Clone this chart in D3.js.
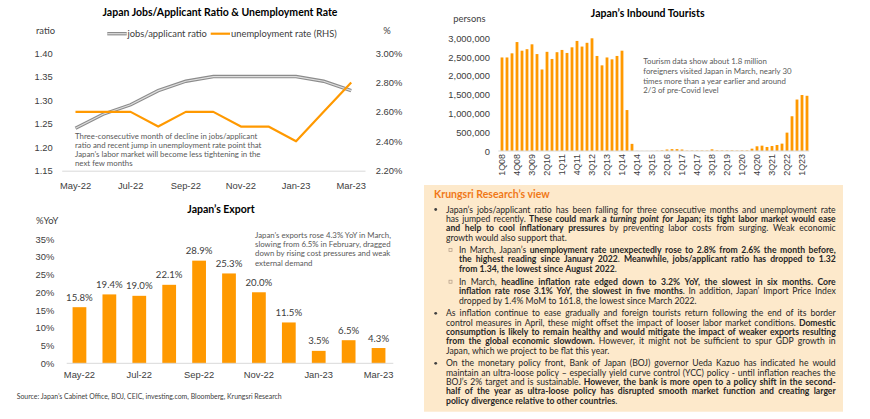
<!DOCTYPE html>
<html><head><meta charset="utf-8">
<script src="https://cdn.jsdelivr.net/npm/d3@7"></script>
<style>
body{margin:0;background:#fff}
svg{display:block;font-family:Lato,'Open Sans',sans-serif}
</style>
</head><body>
<svg id="c" width="870" height="419"></svg>
<script>
// ---------- DATA ----------
const months = ["May-22","Jun-22","Jul-22","Aug-22","Sep-22","Oct-22","Nov-22","Dec-22","Jan-23","Feb-23","Mar-23"];
const jobsRatio = [1.24,1.27,1.29,1.32,1.34,1.35,1.35,1.35,1.35,1.34,1.32];
const unempRate = [2.6,2.6,2.6,2.5,2.6,2.6,2.5,2.5,2.4,2.6,2.8];
const ratioTicks = [1.15,1.20,1.25,1.30,1.35,1.40];
const rateTicks = [2.2,2.4,2.6,2.8,3.0];
const monthTickLabels = ["May-22","Jul-22","Sep-22","Nov-22","Jan-23","Mar-23"];

const exportYoY = [15.8,19.4,19.0,22.1,28.9,25.3,20.0,11.5,3.5,6.5,4.3];
const exportTicks = [0,5,10,15,20,25,30,35];

const quarters = ["1Q08","2Q08","3Q08","4Q08","1Q09","2Q09","3Q09","4Q09","1Q10","2Q10","3Q10","4Q10",
 "1Q11","2Q11","3Q11","4Q11","1Q12","2Q12","3Q12","4Q12","1Q13","2Q13","3Q13","4Q13",
 "1Q14","2Q14","3Q14","4Q14","1Q15","2Q15","3Q15","4Q15","1Q16","2Q16","3Q16","4Q16",
 "1Q17","2Q17","3Q17","4Q17","1Q18","2Q18","3Q18","4Q18","1Q19","2Q19","3Q19","4Q19",
 "1Q20","2Q20","3Q20","4Q20","1Q21","2Q21","3Q21","4Q21","1Q22","2Q22","3Q22","4Q22",
 "1Q23","2Q23"];
const tourists = [2490000,2490000,2600000,2900000,2670000,2710000,2840000,2580000,2170000,2640000,2450000,2630000,
 2690000,2610000,2760000,2930000,2780000,2880000,3000000,2530000,2280000,2490000,2440000,2530000,
 2670000,1090000,190000,5000,3000,3000,4000,8000,15000,40000,50000,50000,
 40000,10000,12000,12000,12000,10000,45000,15000,15000,15000,15000,10000,
 15000,15000,62000,125000,142000,107000,133000,160000,196000,489000,925000,1370000,
 1490000,1470000];
const touristTicks = [0,500000,1000000,1500000,2000000,2500000,3000000];
const quarterTickLabels = ["1Q08","4Q08","3Q09","2Q10","1Q11","4Q11","3Q12","2Q13","1Q14","4Q14","3Q15","2Q16","1Q17","4Q17","3Q18","2Q19","1Q20","4Q20","3Q21","2Q22","1Q23"];

const jobsNote = ["Three-consecutive month of decline in jobs/applicant","ratio and recent jump in unemployment rate point that","Japan’s labor market will become less tightening  in the","next few months"];
const exportNote = ["Japan’s exports rose 4.3% YoY in March,","slowing from 6.5% in February, dragged","down by rising cost pressures and weak","external demand"];
const touristNote = ["Tourism data show about 1.8 million","foreigners visited Japan in March, nearly 30","times more than a year earlier and around","2/3 of pre-Covid level"];

const viewLines = [
 {lvl:0,mark:1,j:1,segs:[["n","Japan’s jobs/applicant ratio has been falling for three consecutive months and unemployment rate"]]},
 {lvl:0,mark:0,j:1,segs:[["n","has jumped recently. "],["b","These could mark a "],["bi","turning point f"],["b","or Japan; its tight labor market would ease"]]},
 {lvl:0,mark:0,j:1,segs:[["b","and help to cool inflationary pressures"],["n"," by preventing labor costs from surging. Weak economic"]]},
 {lvl:0,mark:0,j:0,segs:[["n","growth would also support that."]]},
 {lvl:1,mark:1,j:1,segs:[["n","In March, Japan’s "],["b","unemployment rate unexpectedly rose to 2.8% from 2.6% the month before,"]]},
 {lvl:1,mark:0,j:1,segs:[["b","the highest reading since January 2022"],["n",". "],["b","Meanwhile, jobs/applicant ratio has dropped to 1.32"]]},
 {lvl:1,mark:0,j:0,segs:[["b","from 1.34, the lowest since August 2022"],["n","."]]},
 {lvl:1,mark:1,j:1,segs:[["n","In March, "],["b","headline inflation rate edged down to 3.2% YoY, the slowest in six months. Core"]]},
 {lvl:1,mark:0,j:1,segs:[["b","inflation rate rose 3.1% YoY, the slowest in five months"],["n",". In addition, Japan’ Import Price Index"]]},
 {lvl:1,mark:0,j:0,segs:[["n","dropped by 1.4% MoM to 161.8, the lowest since March 2022."]]},
 {lvl:0,mark:1,j:1,segs:[["n","As inflation continue to ease gradually and foreign tourists return following the end of its border"]]},
 {lvl:0,mark:0,j:1,segs:[["n","control measures in April, these might offset the impact of looser labor market conditions. "],["b","Domestic"]]},
 {lvl:0,mark:0,j:1,segs:[["b","consumption is likely to remain healthy and would mitigate the impact of weaker exports resulting"]]},
 {lvl:0,mark:0,j:1,segs:[["b","from the global economic slowdown."],["n"," However, it might not be sufficient to spur GDP growth in"]]},
 {lvl:0,mark:0,j:0,segs:[["n","Japan, which we project to be flat this year."]]},
 {lvl:0,mark:1,j:1,segs:[["n","On the monetary policy front, Bank of Japan (BOJ) governor Ueda Kazuo has indicated he would"]]},
 {lvl:0,mark:0,j:1,segs:[["n","maintain an ultra-loose policy – especially yield curve control (YCC) policy - until inflation reaches the"]]},
 {lvl:0,mark:0,j:1,segs:[["n","BOJ’s 2% target and is sustainable. "],["b","However, the bank is more open to a policy shift in the second-"]]},
 {lvl:0,mark:0,j:1,segs:[["b","half of the year as ultra-loose policy has disrupted smooth market function and creating larger"]]},
 {lvl:0,mark:0,j:0,segs:[["b","policy divergence relative to other countries"],["n","."]]}
];
const viewLineY = [212.5,221.8,231.2,240.5,253,262.3,271.7,284.7,294,303.5,316.3,325.7,335,344.3,353.7,366.3,375.7,385,394.3,403.7];

// ---------- HELPERS ----------
const svg = d3.select("#c");
const ORANGE = "#ff9900", TXT = "#404040", NOTE = "#595959", AXIS = "#d9d9d9";
const probe = svg.append("text").attr("x",-1000).attr("y",-1000);
function measure(str, weight, size, style){
  probe.attr("font-weight",weight).attr("font-style",style||"normal").attr("font-size",size).text(str);
  return probe.node().getComputedTextLength();
}
function fit(str, weight, target){ return 10*target/measure(str,weight,10); }

const fsTick = fit("3,000,000","normal",42.3);
const fsJobsTitle = fit("Japan Jobs/Applicant Ratio & Unemployment Rate","bold",235);
const fsNote = fit("Three-consecutive month of decline in jobs/applicant","normal",182.7);
const fsSource = fit("Source: Japan’s Cabinet Office, BOJ, CEIC, investing.com, Bloomberg, Krungsri Research","normal",265.7);
const fsBox = fit("dropped by 1.4% MoM to 161.8, the lowest since March 2022.","normal",237.7);
const fsBoxTitle = fit("Krungsri Research’s view","bold",116);
const fsBarLbl = fit("28.9%","normal",26.7);
const fsQ = fit("1Q08","normal",22.7);

function noteLines(g, lines, x, y0, dy){
  g.selectAll(null).data(lines).join("text")
    .attr("x",x).attr("y",(d,i)=>y0+i*dy)
    .attr("font-size",fsNote).attr("fill",NOTE).text(d=>d);
}

// ---------- CHART 1: Jobs / Unemployment ----------
{
  const g = svg.append("g");
  const x = d3.scaleBand().domain(months).range([61.7,365]);
  const cx = m => x(m)+x.bandwidth()/2;
  const yL = d3.scaleLinear().domain([1.15,1.40]).range([170.7,53]);
  const yR = d3.scaleLinear().domain([2.2,3.0]).range([170.7,53]);

  g.append("text").attr("x",220).attr("y",16).attr("text-anchor","middle")
    .attr("font-weight","bold").attr("font-size",fsJobsTitle).attr("fill","#000")
    .text("Japan Jobs/Applicant Ratio & Unemployment Rate");
  g.append("text").attr("x",36).attr("y",34.3).attr("font-size",fsTick).attr("fill",TXT).text("ratio");
  g.append("text").attr("x",383.3).attr("y",34.3).attr("font-size",fsTick).attr("fill",TXT).text("%");

  // legend
  g.append("line").attr("x1",107.3).attr("x2",126.7).attr("y1",33.7).attr("y2",33.7).attr("stroke","#8c8c8c").attr("stroke-width",3.4);
  g.append("line").attr("x1",107.3).attr("x2",126.7).attr("y1",33.7).attr("y2",33.7).attr("stroke","#dedede").attr("stroke-width",1.2);
  g.append("text").attr("x",127.5).attr("y",37).attr("font-size",fsTick).attr("fill",TXT).text("jobs/applicant ratio");
  g.append("line").attr("x1",210.7).attr("x2",230).attr("y1",33.7).attr("y2",33.7).attr("stroke",ORANGE).attr("stroke-width",2.2);
  g.append("text").attr("x",231).attr("y",37).attr("font-size",fsTick).attr("fill",TXT).text("unemployment rate (RHS)");

  // axes
  const ax = g.append("g").attr("transform","translate(0,170.7)")
    .call(d3.axisBottom(x).tickValues(monthTickLabels).tickSize(0).tickPadding(12));
  ax.select(".domain").attr("stroke",AXIS).attr("stroke-width",1);
  ax.selectAll("text").attr("font-size",fsTick).attr("fill",TXT).attr("font-family",null);
  const al = g.append("g").attr("transform","translate(62,0)")
    .call(d3.axisLeft(yL).tickValues(ratioTicks).tickFormat(d3.format(".2f")).tickSize(0).tickPadding(9.3));
  al.select(".domain").remove();
  al.selectAll("text").attr("font-size",fsTick).attr("fill",TXT).attr("font-family",null);
  const ar = g.append("g").attr("transform","translate(365,0)")
    .call(d3.axisRight(yR).tickValues(rateTicks).tickFormat(d=>d.toFixed(2)+"%").tickSize(0).tickPadding(10.7));
  ar.select(".domain").remove();
  ar.selectAll("text").attr("font-size",fsTick).attr("fill",TXT).attr("font-family",null);

  const lineJ = d3.line().x((d,i)=>cx(months[i])).y(d=>yL(d));
  const lineU = d3.line().x((d,i)=>cx(months[i])).y(d=>yR(d));
  g.append("path").attr("d",lineJ(jobsRatio)).attr("fill","none").attr("stroke","#8c8c8c").attr("stroke-width",3.4);
  g.append("path").attr("d",lineJ(jobsRatio)).attr("fill","none").attr("stroke","#dedede").attr("stroke-width",1.2);
  g.append("path").attr("d",lineU(unempRate)).attr("fill","none").attr("stroke",ORANGE).attr("stroke-width",2.2).attr("stroke-linejoin","round");

  noteLines(g, jobsNote, 75, 139.3, 9);
}

// ---------- CHART 2: Export ----------
{
  const g = svg.append("g");
  const x = d3.scaleBand().domain(months).range([64.5,393.5]).paddingInner(0.54).paddingOuter(0.27);
  const y = d3.scaleLinear().domain([0,35]).range([363.3,239]);

  g.append("text").attr("x",221).attr("y",213.3).attr("text-anchor","middle")
    .attr("font-weight","bold").attr("font-size",fsJobsTitle).attr("fill","#000").text("Japan’s Export");
  g.append("text").attr("x",36).attr("y",224).attr("font-size",fsTick).attr("fill",TXT).text("%YoY");

  const al = g.append("g").attr("transform","translate(66.7,0)")
    .call(d3.axisLeft(y).tickValues(exportTicks).tickFormat(d=>d+"%").tickSize(0).tickPadding(12.4));
  al.select(".domain").remove();
  al.selectAll("text").attr("font-size",fsTick).attr("fill",TXT).attr("font-family",null);

  g.selectAll("rect.bar").data(exportYoY).join("rect").attr("class","bar")
    .attr("x",(d,i)=>x(months[i])).attr("width",x.bandwidth())
    .attr("y",d=>y(d)).attr("height",d=>y(0)-y(d)).attr("fill",ORANGE);

  g.selectAll("text.bl").data(exportYoY).join("text").attr("class","bl")
    .attr("x",(d,i)=>x(months[i])+x.bandwidth()/2).attr("y",d=>y(d)-6.5)
    .attr("text-anchor","middle").attr("font-size",fsBarLbl).attr("fill",TXT)
    .text(d=>d.toFixed(1)+"%");

  const ax = g.append("g").attr("transform","translate(0,363.3)")
    .call(d3.axisBottom(x).tickValues(monthTickLabels).tickSize(0).tickPadding(8));
  ax.select(".domain").attr("stroke",AXIS).attr("d","M66.7,0H393.3");
  ax.selectAll("text").attr("font-size",fsTick).attr("fill",TXT).attr("font-family",null);

  noteLines(g, exportNote, 255, 237.7, 9.33);

  svg.append("text").attr("x",16.7).attr("y",398.7).attr("font-size",fsSource).attr("fill",TXT)
    .text("Source: Japan’s Cabinet Office, BOJ, CEIC, investing.com, Bloomberg, Krungsri Research");
}

// ---------- CHART 3: Tourists ----------
{
  const g = svg.append("g");
  const x = d3.scaleBand().domain(quarters).range([499.5,809.5]).paddingInner(0.44).paddingOuter(0.22);
  const y = d3.scaleLinear().domain([0,3000000]).range([151,38.3]);

  g.append("text").attr("x",647.7).attr("y",17.3).attr("text-anchor","middle")
    .attr("font-weight","bold").attr("font-size",fsJobsTitle).attr("fill","#000").text("Japan’s Inbound Tourists");
  g.append("text").attr("x",453.3).attr("y",22).attr("font-size",fsTick).attr("fill",TXT).text("persons");

  const al = g.append("g").attr("transform","translate(498.3,0)")
    .call(d3.axisLeft(y).tickValues(touristTicks).tickFormat(d3.format(",")).tickSize(0).tickPadding(8.3));
  al.select(".domain").remove();
  al.selectAll("text").attr("font-size",fsTick).attr("fill",TXT).attr("font-family",null);

  g.selectAll("rect.bar").data(tourists).join("rect").attr("class","bar")
    .attr("x",(d,i)=>x(quarters[i])).attr("width",x.bandwidth())
    .attr("y",d=>y(d)).attr("height",d=>y(0)-y(d)).attr("fill",ORANGE);

  const ax = g.append("g").attr("transform","translate(0,151)")
    .call(d3.axisBottom(x).tickValues(quarterTickLabels).tickSize(0).tickPadding(3));
  ax.select(".domain").attr("stroke",AXIS).attr("d","M498.3,0H809.3");
  ax.selectAll("text").attr("font-size",fsQ).attr("fill",TXT).attr("font-family",null)
    .attr("transform","rotate(-90)").attr("text-anchor","end").attr("x",-3).attr("y",0).attr("dy","0.35em");

  noteLines(g, touristNote, 643.3, 63.7, 9.9);
}

// ---------- RESEARCH BOX ----------
function tokenize(segs){
  const words=[]; let cur=[];
  segs.forEach(([st,txt])=>{
    txt.split(" ").forEach((p,k)=>{
      if(k>0){ if(cur.length) words.push(cur); cur=[]; }
      if(p.length) cur.push({st,txt:p});
    });
  });
  if(cur.length) words.push(cur);
  return words;
}
{
  const g = svg.append("g");
  g.append("rect").attr("x",424).attr("y",185).attr("width",419).attr("height",226.7).attr("fill","#fde9cb");
  g.append("text").attr("x",434).attr("y",198.3).attr("font-weight","bold").attr("font-size",fsBoxTitle)
    .attr("fill","#f07818").text("Krungsri Research’s view");
  const right = 835.7;
  const spaceW = measure("a a","normal",fsBox)-measure("aa","normal",fsBox);
  const wOf = p => measure(p.txt, p.st.includes("b")?"bold":"normal", fsBox, p.st.includes("i")?"italic":"normal");
  viewLines.forEach((ln,i)=>{
    const x0 = ln.lvl ? 459 : 446;
    const yb = viewLineY[i];
    const words = tokenize(ln.segs);
    const widths = words.map(w=>d3.sum(w,wOf));
    const total = d3.sum(widths);
    const gap = (ln.j && words.length>1) ? (right-x0-total)/(words.length-1) : spaceW;
    const t = g.append("text").attr("y",yb).attr("font-size",fsBox).attr("fill","#262626");
    let xx = x0;
    words.forEach((w,k)=>{
      w.forEach((p,m)=>{
        const ts = t.append("tspan").text(p.txt)
          .attr("font-weight",p.st.includes("b")?"bold":"normal")
          .attr("font-style",p.st.includes("i")?"italic":"normal");
        if(m===0) ts.attr("x",xx);
      });
      xx += widths[k] + gap;
    });
    if(ln.mark){
      if(ln.lvl===0) g.append("circle").attr("cx",435.7).attr("cy",yb-3).attr("r",1.4).attr("fill","#404040");
      else g.append("rect").attr("x",449).attr("y",yb-4.5).attr("width",3).attr("height",3)
        .attr("fill","none").attr("stroke","#b09a86").attr("stroke-width",0.7);
    }
  });
}
probe.remove();
</script>
</body></html>
